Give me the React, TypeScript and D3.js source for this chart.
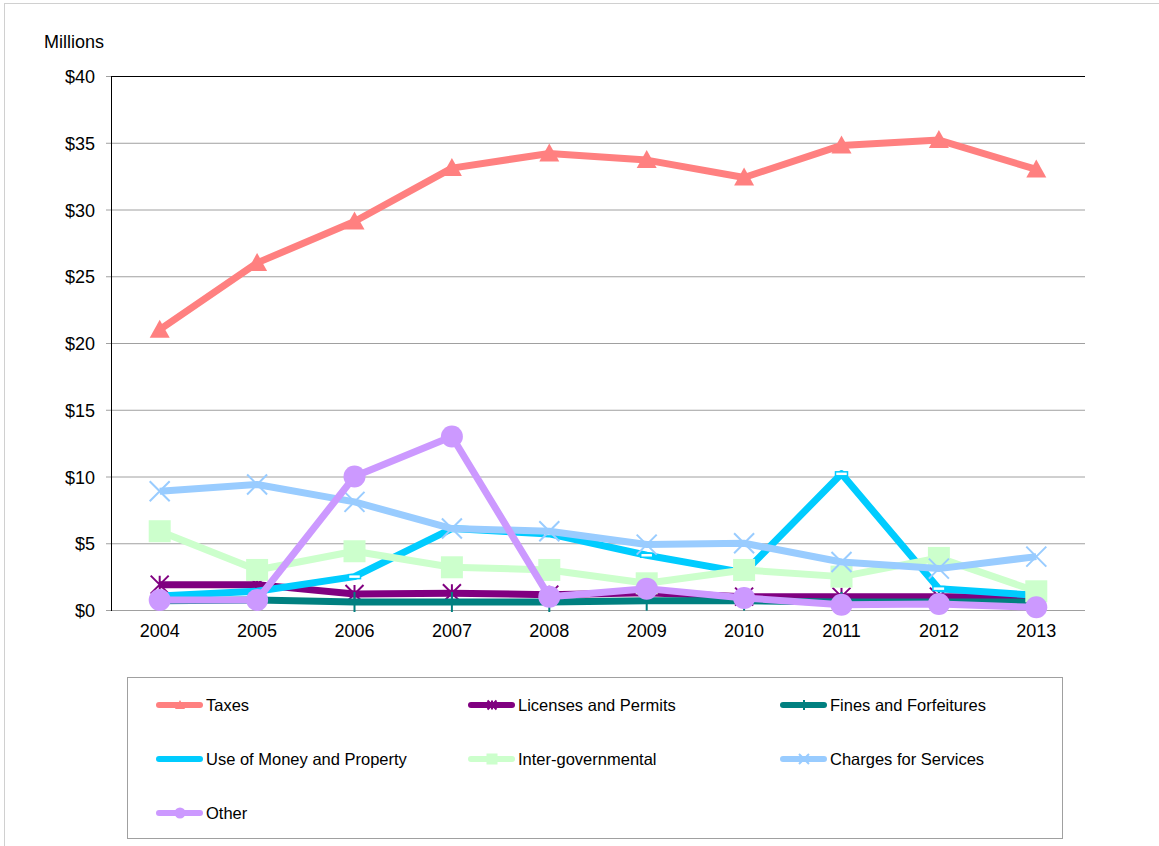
import React, { useEffect, useRef } from "react";
import * as d3 from "d3";

const years = ["2004", "2005", "2006", "2007", "2008", "2009", "2010", "2011", "2012", "2013"];
const taxes = [21.0, 26.0, 29.1, 33.1, 34.2, 33.7, 32.4, 34.8, 35.2, 33.0];
const licenses = [1.9, 1.9, 1.2, 1.25, 1.15, 1.3, 1.0, 1.0, 1.0, 0.95];
const fines = [0.7, 0.75, 0.6, 0.6, 0.6, 0.7, 0.7, 0.6, 0.6, 0.6];
const useOfMoney = [1.05, 1.4, 2.5, 6.1, 5.7, 4.1, 2.8, 10.2, 1.6, 1.1];
const interGov = [5.9, 3.0, 4.4, 3.2, 3.0, 2.0, 3.0, 2.5, 3.9, 1.4];
const charges = [8.9, 9.4, 8.1, 6.1, 5.9, 4.9, 5.0, 3.6, 3.1, 4.0];
const other = [0.75, 0.75, 10.0, 13.0, 1.0, 1.6, 0.9, 0.4, 0.45, 0.2];
const yTicks = [0, 5, 10, 15, 20, 25, 30, 35, 40];

type Series = { name: string; values: number[]; color: string; marker: string };
const series: Series[] = [
  { name: "Taxes", values: taxes, color: "#FF8080", marker: "triangle" },
  { name: "Licenses and Permits", values: licenses, color: "#800080", marker: "star" },
  { name: "Fines and Forfeitures", values: fines, color: "#008080", marker: "plus" },
  { name: "Use of Money and Property", values: useOfMoney, color: "#00CCFF", marker: "dash" },
  { name: "Inter-governmental", values: interGov, color: "#CCFFCC", marker: "square" },
  { name: "Charges for Services", values: charges, color: "#99CCFF", marker: "x" },
  { name: "Other", values: other, color: "#CC99FF", marker: "circle" },
];

export default function App() {
  const ref = useRef<SVGSVGElement>(null);
  useEffect(() => {
    const svg = d3.select(ref.current);
    svg.selectAll("*").remove();
    const W = 1159, H = 846;
    const left = 111, right = 1085, top = 76, bottom = 610;
    const font = "Liberation Sans, Arial, sans-serif";

    svg.append("rect").attr("x", 0).attr("y", 0).attr("width", W).attr("height", H).attr("fill", "#fff");
    svg.append("rect").attr("x", 4.5).attr("y", 3.5).attr("width", W + 10).attr("height", H + 10)
      .attr("fill", "none").attr("stroke", "#d0d0d0").attr("stroke-width", 1);

    const x = d3.scaleBand<string>().domain(years).range([left, right]);
    const y = d3.scaleLinear().domain([0, 40]).range([bottom, top]);
    const cx = (i: number) => (x(years[i]) as number) + x.bandwidth() / 2;

    // gridlines
    svg.append("g").selectAll("line").data(yTicks.filter(t => t > 0 && t < 40)).join("line")
      .attr("x1", left).attr("x2", right).attr("y1", d => y(d) + 0.5).attr("y2", d => y(d) + 0.5)
      .attr("stroke", "#a0a0a0").attr("stroke-width", 1);
    svg.append("line").attr("x1", left).attr("x2", right).attr("y1", y(40) + 0.5).attr("y2", y(40) + 0.5)
      .attr("stroke", "#000").attr("stroke-width", 1);
    svg.append("line").attr("x1", left).attr("x2", right).attr("y1", bottom + 0.5).attr("y2", bottom + 0.5)
      .attr("stroke", "#a0a0a0").attr("stroke-width", 1);
    // y axis
    svg.append("line").attr("x1", left + 0.5).attr("x2", left + 0.5).attr("y1", top).attr("y2", bottom + 1)
      .attr("stroke", "#000").attr("stroke-width", 1);
    svg.append("g").selectAll("line").data(yTicks).join("line")
      .attr("x1", left - 5).attr("x2", left).attr("y1", d => y(d) + 0.5).attr("y2", d => y(d) + 0.5)
      .attr("stroke", "#a0a0a0");
    svg.append("g").selectAll("text").data(yTicks).join("text")
      .attr("x", 95).attr("y", d => y(d) + 7).attr("text-anchor", "end")
      .attr("font-family", font).attr("font-size", 18).attr("fill", "#000")
      .text(d => "$" + d);
    svg.append("text").attr("x", 44).attr("y", 48).attr("font-family", font).attr("font-size", 18).text("Millions");
    // x labels
    svg.append("g").selectAll("text").data(years).join("text")
      .attr("x", (d, i) => cx(i)).attr("y", 637).attr("text-anchor", "middle")
      .attr("font-family", font).attr("font-size", 18).text(d => d);

    const drawMarker = (g: any, m: string, px: number, py: number, color: string, scale = 1) => {
      const s = scale;
      if (m === "triangle") {
        g.append("path").attr("d", `M${px},${py - 10 * s}L${px + 10 * s},${py + 8 * s}L${px - 10 * s},${py + 8 * s}Z`).attr("fill", color);
      } else if (m === "square") {
        g.append("rect").attr("x", px - 11 * s).attr("y", py - 11 * s).attr("width", 22 * s).attr("height", 22 * s).attr("fill", color);
      } else if (m === "circle") {
        g.append("circle").attr("cx", px).attr("cy", py).attr("r", 11 * s).attr("fill", color);
      } else if (m === "x") {
        const r = 10 * s;
        g.append("path").attr("d", `M${px - r},${py - r}L${px + r},${py + r}M${px - r},${py + r}L${px + r},${py - r}`)
          .attr("stroke", color).attr("stroke-width", 2).attr("fill", "none");
      } else if (m === "star") {
        const r = 9 * s;
        g.append("path").attr("d", `M${px - r},${py - r}L${px + r},${py + r}M${px - r},${py + r}L${px + r},${py - r}M${px},${py - r}L${px},${py + r}`)
          .attr("stroke", color).attr("stroke-width", 2).attr("fill", "none");
      } else if (m === "plus") {
        const r = 10 * s;
        g.append("path").attr("d", `M${px},${py - r}L${px},${py + r}`)
          .attr("stroke", color).attr("stroke-width", 2).attr("fill", "none");
      } else if (m === "dash") {
        g.append("rect").attr("x", px - 6 * s).attr("y", py - 2 * s).attr("width", 12 * s).attr("height", 4 * s)
          .attr("fill", "#fff").attr("stroke", color).attr("stroke-width", 1.5);
      }
    };

    const line = d3.line<number>().x((d, i) => cx(i)).y(d => y(d));
    const plot = svg.append("g");
    series.forEach(s => {
      const g = plot.append("g");
      g.append("path").attr("d", line(s.values)).attr("fill", "none").attr("stroke", s.color)
        .attr("stroke-width", 7).attr("stroke-linejoin", "round");
      s.values.forEach((v, i) => drawMarker(g, s.marker, cx(i), y(v), s.color));
    });

    // legend
    const lg = svg.append("g");
    lg.append("rect").attr("x", 127.5).attr("y", 677.5).attr("width", 935).attr("height", 161)
      .attr("fill", "#fff").attr("stroke", "#a0a0a0");
    const colX = [156, 468, 780];
    const rowY = [705, 759, 813];
    series.forEach((s, i) => {
      const lx = colX[i % 3], ly = rowY[Math.floor(i / 3)];
      const g = lg.append("g");
      g.append("line").attr("x1", lx + 3).attr("x2", lx + 44).attr("y1", ly).attr("y2", ly)
        .attr("stroke", s.color).attr("stroke-width", 6).attr("stroke-linecap", "round");
      if (s.marker !== "dash") drawMarker(g, s.marker, lx + 24, ly, s.color, 0.5);
      g.append("text").attr("x", lx + 50).attr("y", ly + 6).attr("font-family", font).attr("font-size", 16.5)
        .text(s.name);
    });
  }, []);
  return (
    <div style={{ position: "absolute", left: 0, top: 0 }}>
      <svg ref={ref} width={1159} height={846} style={{ display: "block" }} />
    </div>
  );
}
